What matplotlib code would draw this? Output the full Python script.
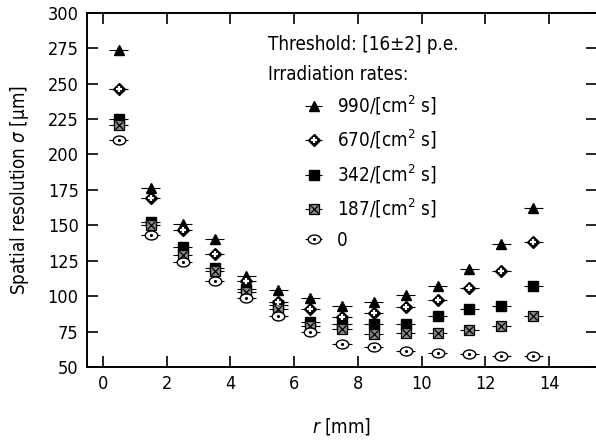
import matplotlib
matplotlib.use("Agg")
import matplotlib.pyplot as plt
from matplotlib.container import ErrorbarContainer
from matplotlib.legend_handler import HandlerErrorbar
from matplotlib.path import Path
from matplotlib.transforms import Affine2D

plt.rcParams["font.family"] = ["DejaVu Sans"]
plt.rcParams["font.stretch"] = "condensed"
plt.rcParams["mathtext.fontset"] = "custom"
plt.rcParams["mathtext.rm"] = "DejaVu Sans:stretch=condensed"
plt.rcParams["mathtext.it"] = "DejaVu Sans:slant=italic:stretch=condensed"

# radius bin centres [mm]
r = [0.5, 1.5, 2.5, 3.5, 4.5, 5.5, 6.5, 7.5, 8.5, 9.5, 10.5, 11.5, 12.5, 13.5]

# spatial resolution [um] per irradiation rate
sig_990 = [274, 176, 151, 140, 114, 104, 99, 93, 96, 101, 107, 119, 137, 162]
sig_670 = [246, 169, 147, 130, 111, 96, 91, 85, 88, 92, 97, 106, 118, 138]
sig_342 = [225, 152, 135, 120, 105, 94, 82, 80, 80, 80, 86, 91, 93, 107]
sig_187 = [221, 150, 129, 118, 103, 91, 79, 77, 73, 74, 74, 76, 79, 86]
sig_0 = [210, 143, 124, 111, 99, 86, 75, 66, 64, 61, 60, 59, 58, 58]

r_err = 0.3
sig_err = 2.0

labels = ["990/[cm$^2$ s]", "670/[cm$^2$ s]", "342/[cm$^2$ s]",
          "187/[cm$^2$ s]", "0"]

# flattened circle for the zero-rate points
ellipse = Path.unit_circle().transformed(Affine2D().scale(1.4, 1.0))

fig = plt.figure(figsize=(5.96, 4.45), dpi=100)
ax = fig.add_axes([0.1461, 0.1753, 0.8554, 0.796])

eb = dict(xerr=r_err, yerr=sig_err, ls="none", ecolor="black", elinewidth=0.8,
          capsize=0, zorder=3)
handles = []

# 990: filled triangle
c = ax.errorbar(r, sig_990, fmt="^", ms=7, mfc="black", mec="black", **eb)
handles.append(c)

# 670: black diamond with a white cross
c = ax.errorbar(r, sig_670, fmt="D", ms=6.5, mfc="black", mec="black", **eb)
o, = ax.plot(r, sig_670, ls="none", marker="+", ms=5, mew=1.6, color="white", zorder=4)
handles.append((c, o))

# 342: filled square
c = ax.errorbar(r, sig_342, fmt="s", ms=7, mfc="black", mec="black", **eb)
handles.append(c)

# 187: grey square crossed
c = ax.errorbar(r, sig_187, fmt="s", ms=6.5, mfc="#8a8a8a", mec="black", mew=0.9, **eb)
o, = ax.plot(r, sig_187, ls="none", marker="x", ms=5.5, mew=0.9, color="black", zorder=4)
handles.append((c, o))

# 0: open flattened circle with centre dot
c = ax.errorbar(r, sig_0, fmt="none", **eb)
m, = ax.plot(r, sig_0, ls="none", marker=ellipse, ms=9, mfc="white", mec="black", mew=1.0, zorder=4)
o, = ax.plot(r, sig_0, ls="none", marker=".", ms=2.5, color="black", zorder=5)
handles.append((c, m, o))

ax.set_xlim(-0.5, 15.5)
ax.set_ylim(50, 300)
ax.set_xticks(range(0, 15, 2))
ax.set_yticks(range(50, 301, 25))
ax.tick_params(direction="in", length=8, width=1.2, top=True, right=True,
               labelsize=13, pad=6)
for s in ax.spines.values():
    s.set_linewidth(1.4)

ax.set_xlabel("$\\it{r}$ [mm]", fontsize=13.5, labelpad=16)
ax.set_ylabel("Spatial resolution $\\it{\\sigma}$ [\u03bcm]", fontsize=13.5, labelpad=12)

fig.text(268 / 596, 1 - 45 / 445, "Threshold: [16\u00b12] p.e.", fontsize=13.5, va="center")
fig.text(268 / 596, 1 - 75 / 445, "Irradiation rates:", fontsize=13.5, va="center")

ax.legend(handles, labels, loc="upper left", bbox_to_anchor=(292 / 596, 1 - 84 / 445),
          bbox_transform=fig.transFigure, frameon=False, fontsize=13.5,
          handlelength=1.3, handletextpad=0.6, labelspacing=0.58, borderpad=0,
          handler_map={ErrorbarContainer: HandlerErrorbar(xerr_size=0.45, yerr_size=0)})

fig.savefig("out.png", dpi=100)
